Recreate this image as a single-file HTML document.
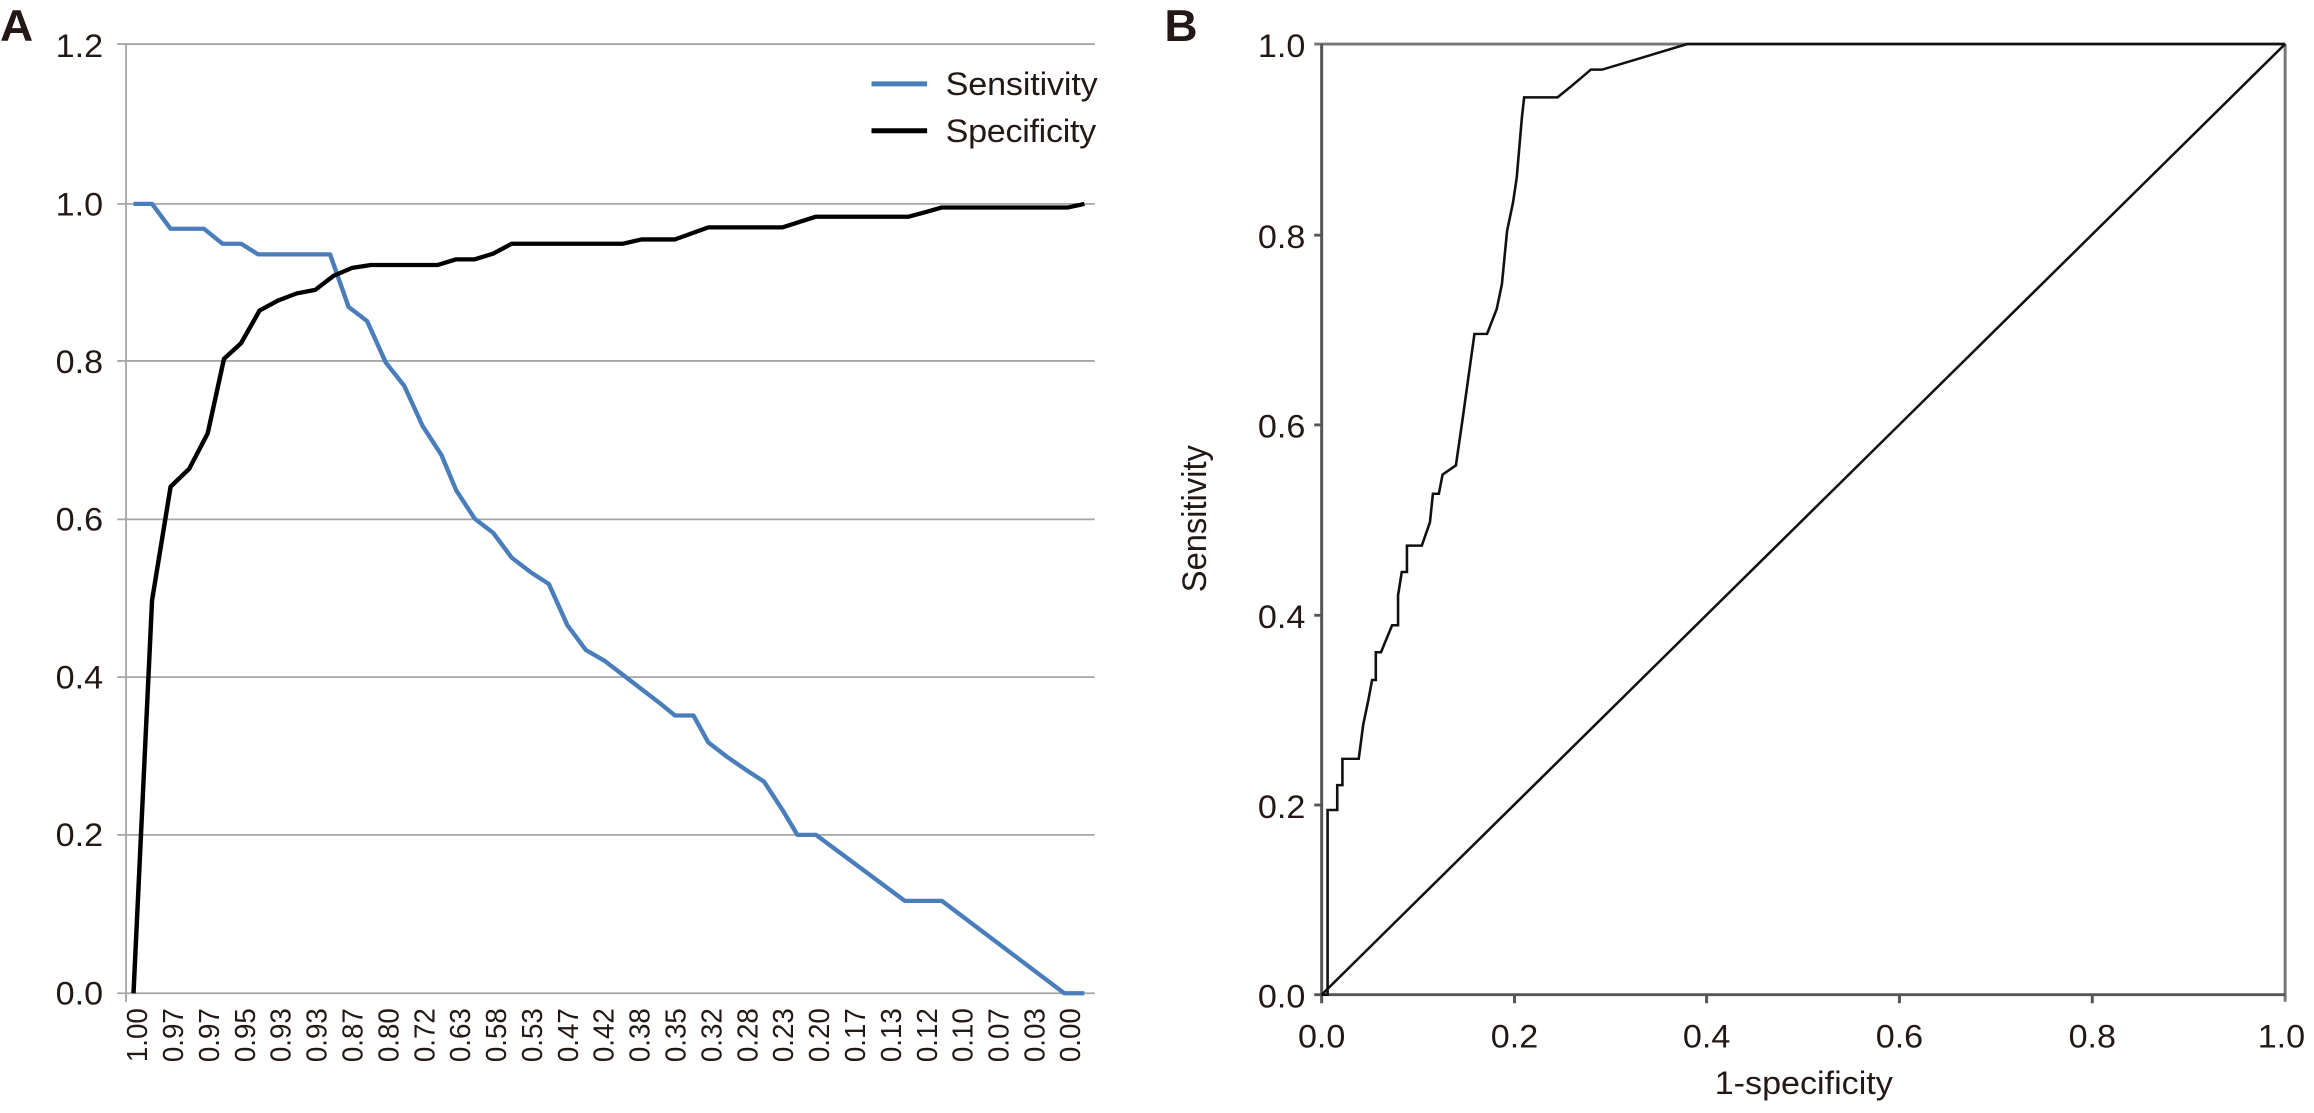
<!DOCTYPE html>
<html><head><meta charset="utf-8"><style>
html,body{margin:0;padding:0;background:#fff;}
svg{display:block;font-family:"Liberation Sans",sans-serif;}
</style></head><body>
<svg width="2314" height="1113" viewBox="0 0 2314 1113" xmlns="http://www.w3.org/2000/svg">
<g transform="scale(0.7417,0.7105)">
  <text x="0" y="58" font-size="62" font-weight="bold" fill="#231815">A</text>
  <g stroke="#a6a6a6" stroke-width="2.5">
    <line x1="158" y1="62" x2="1476" y2="62"/>
    <line x1="158" y1="287" x2="1476" y2="287"/>
    <line x1="158" y1="508" x2="1476" y2="508"/>
    <line x1="158" y1="731" x2="1476" y2="731"/>
    <line x1="158" y1="953" x2="1476" y2="953"/>
    <line x1="158" y1="1175" x2="1476" y2="1175"/>
    <line x1="158" y1="1398" x2="1476" y2="1398"/>
    <line x1="170" y1="62" x2="170" y2="1410"/>
  </g>
  <g font-size="46" fill="#231815" text-anchor="end">
    <text x="139" y="80">1.2</text>
    <text x="139" y="303">1.0</text>
    <text x="139" y="525">0.8</text>
    <text x="139" y="747">0.6</text>
    <text x="139" y="969">0.4</text>
    <text x="139" y="1191">0.2</text>
    <text x="139" y="1414">0.0</text>
  </g>
  <g font-size="39" fill="#231815" text-anchor="end">
    <text transform="translate(198,1419) rotate(-90)">1.00</text>
    <text transform="translate(247,1419) rotate(-90)">0.97</text>
    <text transform="translate(295,1419) rotate(-90)">0.97</text>
    <text transform="translate(344,1419) rotate(-90)">0.95</text>
    <text transform="translate(392,1419) rotate(-90)">0.93</text>
    <text transform="translate(440,1419) rotate(-90)">0.93</text>
    <text transform="translate(489,1419) rotate(-90)">0.87</text>
    <text transform="translate(537,1419) rotate(-90)">0.80</text>
    <text transform="translate(586,1419) rotate(-90)">0.72</text>
    <text transform="translate(634,1419) rotate(-90)">0.63</text>
    <text transform="translate(682,1419) rotate(-90)">0.58</text>
    <text transform="translate(731,1419) rotate(-90)">0.53</text>
    <text transform="translate(779,1419) rotate(-90)">0.47</text>
    <text transform="translate(827,1419) rotate(-90)">0.42</text>
    <text transform="translate(876,1419) rotate(-90)">0.38</text>
    <text transform="translate(924,1419) rotate(-90)">0.35</text>
    <text transform="translate(973,1419) rotate(-90)">0.32</text>
    <text transform="translate(1021,1419) rotate(-90)">0.28</text>
    <text transform="translate(1069,1419) rotate(-90)">0.23</text>
    <text transform="translate(1118,1419) rotate(-90)">0.20</text>
    <text transform="translate(1166,1419) rotate(-90)">0.17</text>
    <text transform="translate(1215,1419) rotate(-90)">0.13</text>
    <text transform="translate(1263,1419) rotate(-90)">0.12</text>
    <text transform="translate(1311,1419) rotate(-90)">0.10</text>
    <text transform="translate(1360,1419) rotate(-90)">0.07</text>
    <text transform="translate(1408,1419) rotate(-90)">0.03</text>
    <text transform="translate(1456,1419) rotate(-90)">0.00</text>
  </g>
  <g stroke="#a6a6a6" stroke-width="2.5">
    <line x1="170" y1="1398" x2="170" y2="1410"/>
  </g>
  <polyline fill="none" stroke="#4a7ebb" stroke-width="6" stroke-linejoin="round" points="180,287 205,287 230,322 275,322 300,343 325,343 348,358 445,358 470,432 495,452 520,510 545,543 570,600 595,640 615,690 640,730 665,750 690,785 715,805 740,822 765,880 790,915 815,930 840,950 865,970 890,990 910,1007 935,1007 955,1045 980,1065 1005,1083 1030,1100 1055,1140 1075,1175 1100,1175 1220,1268 1270,1268 1435,1398 1462,1398"/>
  <polyline fill="none" stroke="#000" stroke-width="6" stroke-linejoin="round" points="180,1398 205,845 230,685 255,660 280,610 302,505 325,483 350,437 375,423 400,413 425,408 450,388 475,377 500,373 590,373 615,365 640,365 665,357 690,343 840,343 865,337 910,337 955,320 1055,320 1100,305 1225,305 1250,298 1270,292 1440,292 1462,287"/>
  <line x1="1175" y1="118" x2="1250" y2="118" stroke="#4a7ebb" stroke-width="7"/>
  <line x1="1175" y1="184" x2="1250" y2="184" stroke="#000" stroke-width="7"/>
  <text x="1275" y="134" font-size="46" fill="#231815" textLength="205">Sensitivity</text>
  <text x="1275" y="200" font-size="46" fill="#231815" textLength="203">Specificity</text>
</g>
<g transform="translate(1157,0) scale(0.7417,0.7105)">
  <text x="10" y="58" font-size="62" font-weight="bold" fill="#231815">B</text>
  <g stroke="#555" stroke-width="4">
    <line x1="212" y1="62" x2="1521" y2="62" stroke="#777"/>
    <line x1="1521" y1="62" x2="1521" y2="1410" stroke="#777"/>
    <line x1="222" y1="62" x2="222" y2="1400"/>
    <line x1="212" y1="1400" x2="1521" y2="1400"/>
    <line x1="212" y1="1133" x2="222" y2="1133"/>
    <line x1="212" y1="866" x2="222" y2="866"/>
    <line x1="212" y1="598" x2="222" y2="598"/>
    <line x1="212" y1="331" x2="222" y2="331"/>
    <line x1="222" y1="1400" x2="222" y2="1412"/>
    <line x1="482" y1="1400" x2="482" y2="1412"/>
    <line x1="741" y1="1400" x2="741" y2="1412"/>
    <line x1="1001" y1="1400" x2="1001" y2="1412"/>
    <line x1="1261" y1="1400" x2="1261" y2="1412"/>
  </g>
  <g font-size="46" fill="#231815" text-anchor="end">
    <text x="200" y="80">1.0</text>
    <text x="200" y="349">0.8</text>
    <text x="200" y="616">0.6</text>
    <text x="200" y="884">0.4</text>
    <text x="200" y="1151">0.2</text>
    <text x="200" y="1418">0.0</text>
  </g>
  <g font-size="46" fill="#231815" text-anchor="middle">
    <text x="222" y="1474">0.0</text>
    <text x="482" y="1474">0.2</text>
    <text x="741" y="1474">0.4</text>
    <text x="1001" y="1474">0.6</text>
    <text x="1261" y="1474">0.8</text>
    <text x="1516" y="1474">1.0</text>
    <text x="872" y="1540">1-specificity</text>
    <text transform="translate(66,730) rotate(-90)">Sensitivity</text>
  </g>
  <line x1="222" y1="1400" x2="1521" y2="62" stroke="#111" stroke-width="3.5"/>
  <polyline fill="none" stroke="#111" stroke-width="3.5" points="222,1400 230,1400 230,1140 243,1140 243,1105 250,1105 250,1068 272,1068 278,1020 285,985 290,957 295,957 295,918 302,918 317,880 325,880 325,838 330,805 337,805 337,768 357,768 368,735 372,695 380,695 385,668 403,655 412,590 420,530 428,470 445,470 458,435 465,400 472,325 480,285 485,250 492,165 495,137 540,137 560,120 585,98 600,98 715,62 1521,62"/>
</g>
</svg>
</body></html>
